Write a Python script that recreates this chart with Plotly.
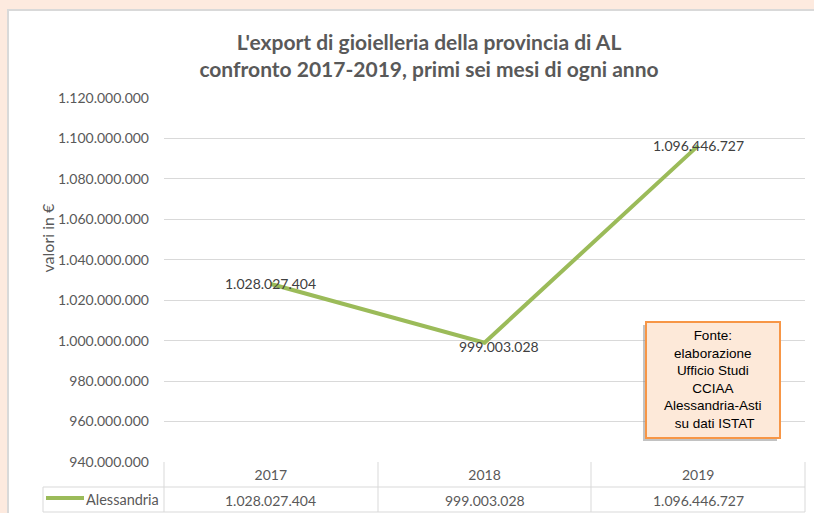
import plotly.graph_objects as go

# data
anni = ["2017", "2018", "2019"]
valori_alessandria = [1028027404, 999003028, 1096446727]
nome_serie = "Alessandria"
fonte_righe = ["Fonte:", "elaborazione", "Ufficio Studi", "CCIAA", "Alessandria-Asti", " su dati ISTAT"]

W, H = 814, 513
L, R, T, B = 164, 9, 98, 51
PW, PH = W - L - R, H - T - B

GRID = "#d9d9d9"
GREEN = "#9bbb59"
TXT = "#595959"
FONT = "Lato"


def px_x(p):
    return (p - L) / PW


def px_y(p):
    return (H - B - p) / PH


def fmt(v):
    return f"{v:,}".replace(",", ".")


fig = go.Figure()

fig.add_trace(go.Scatter(
    x=anni,
    y=valori_alessandria,
    mode="lines",
    line=dict(color=GREEN, width=4),
    name=nome_serie,
    showlegend=False,
))

shapes = []
annotations = []

# white chart area on peach page
shapes.append(dict(type="rect", xref="paper", yref="paper", layer="below",
                   x0=px_x(8), x1=px_x(830), y0=px_y(10), y1=px_y(530),
                   fillcolor="white", line=dict(color=GRID, width=2)))

# data labels (category index on x)
label_shift = [(0, 0), (14, -4), (0, 0)]
for i, (v, (dx, dy)) in enumerate(zip(valori_alessandria, label_shift)):
    annotations.append(dict(x=i, y=v, xref="x", yref="y", text=fmt(v), showarrow=False,
                            xshift=dx, yshift=dy,
                            font=dict(family=FONT, size=14, color="#404040")))

# data table under the axis
def hline(y, x0, x1):
    shapes.append(dict(type="line", xref="paper", yref="paper",
                       x0=px_x(x0), x1=px_x(x1), y0=px_y(y), y1=px_y(y),
                       line=dict(color=GRID, width=1)))


def vline(x, y0, y1):
    shapes.append(dict(type="line", xref="paper", yref="paper",
                       x0=px_x(x), x1=px_x(x), y0=px_y(y0), y1=px_y(y1),
                       line=dict(color=GRID, width=1)))


hline(487, 43, 805)
hline(512, 43, 805)
for xv in [164, 378, 591, 805]:
    vline(xv, 462, 512)
vline(43, 487, 512)

for i, v in enumerate(valori_alessandria):
    annotations.append(dict(x=i, y=px_y(500), xref="x", yref="paper", text=fmt(v),
                            showarrow=False, yanchor="middle",
                            font=dict(family=FONT, size=14, color=TXT)))

# legend key in table
shapes.append(dict(type="line", xref="paper", yref="paper",
                   x0=px_x(46), x1=px_x(84), y0=px_y(498), y1=px_y(498),
                   line=dict(color=GREEN, width=4)))
annotations.append(dict(x=px_x(161), y=px_y(499), xref="paper", yref="paper", text=nome_serie,
                        showarrow=False, xanchor="right", yanchor="middle",
                        font=dict(family=FONT, size=14.5, color=TXT)))

# y axis title
annotations.append(dict(x=px_x(35), y=px_y(238), xref="paper", yref="paper", text="valori in €",
                        textangle=-90, showarrow=False,
                        font=dict(family=FONT, size=16, color=TXT)))

# source box
shapes.append(dict(type="rect", xref="paper", yref="paper",
                   x0=px_x(643), x1=px_x(777), y0=px_y(325), y1=px_y(441),
                   fillcolor="rgba(120,120,120,0.45)", line=dict(width=0)))
shapes.append(dict(type="rect", xref="paper", yref="paper",
                   x0=px_x(646), x1=px_x(780), y0=px_y(322), y1=px_y(438),
                   fillcolor="#fde9d9", line=dict(color="#f79646", width=2)))
annotations.append(dict(x=px_x(713), y=px_y(379), xref="paper", yref="paper",
                        text="<br>".join(fonte_righe), showarrow=False,
                        xanchor="center", yanchor="middle", align="center",
                        font=dict(family="Liberation Sans", size=13.5, color="black")))

fig.update_layout(
    width=W,
    height=H,
    margin=dict(l=L, r=R, t=T, b=B, pad=0),
    paper_bgcolor="#fdeadf",
    plot_bgcolor="rgba(0,0,0,0)",
    separators=",.",
    title=dict(
        text="<b>L'export di gioielleria della provincia di AL<br>confronto 2017-2019, primi sei mesi di ogni anno</b>",
        x=429 / W,
        xanchor="center",
        y=1 - 50 / H,
        yanchor="middle",
        font=dict(family=FONT, size=21, color=TXT),
    ),
    xaxis=dict(
        type="category",
        range=[-0.5, 2.5],
        showgrid=False,
        zeroline=False,
        showline=False,
        ticks="",
        tickfont=dict(family=FONT, size=14, color=TXT),
        ticklabelstandoff=3,
    ),
    yaxis=dict(
        range=[940000000, 1120000000],
        dtick=20000000,
        tickformat=",d",
        gridcolor=GRID,
        gridwidth=1,
        zeroline=False,
        showline=False,
        ticks="",
        ticklabelstandoff=14,
        tickfont=dict(family=FONT, size=14, color=TXT),
    ),
    shapes=shapes,
    annotations=annotations,
    showlegend=False,
)

fig.write_html("out.html", config={"displayModeBar": False},
               post_script="document.body.style.margin='0';document.body.style.overflow='hidden';")
